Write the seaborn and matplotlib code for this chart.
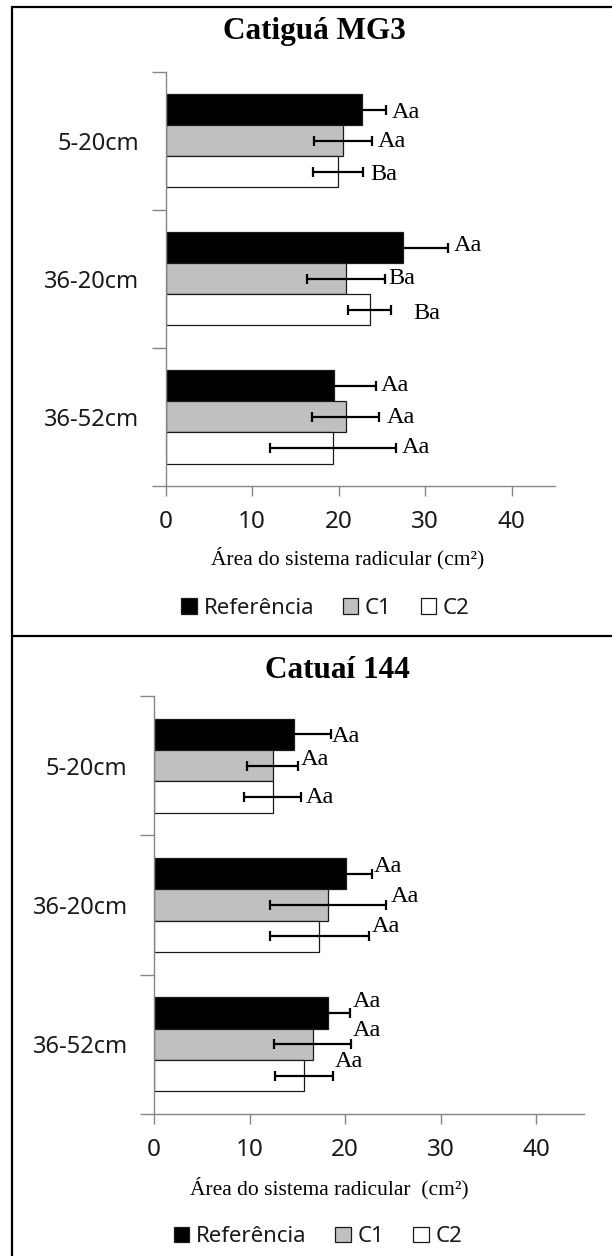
import matplotlib
matplotlib.use("Agg")
import matplotlib.pyplot as plt
import seaborn as sns
import pandas as pd
from matplotlib.lines import Line2D

# ---------------- data ----------------
categories = ["5-20cm", "36-20cm", "36-52cm"]
treatments = ["Referência", "C1", "C2"]

titles = ["Catiguá MG3", "Catuaí 144"]
xlabels = ["Área do sistema radicular (cm²)", "Área do sistema radicular  (cm²)"]
xticks = [0, 10, 20, 30, 40]

# Catiguá MG3
mg3_ref = [22.7, 27.4, 19.4]
mg3_c1 = [20.5, 20.8, 20.8]
mg3_c2 = [19.9, 23.6, 19.3]
mg3_ref_err = [2.8, 5.2, 4.9]
mg3_c1_err = [3.3, 4.5, 3.9]
mg3_c2_err = [2.9, 2.5, 7.3]
mg3_ref_lab = ["Aa", "Aa", "Aa"]
mg3_c1_lab = ["Aa", "Ba", "Aa"]
mg3_c2_lab = ["Ba", "Ba", "Aa"]

# Catuaí 144
cat_ref = [14.6, 20.1, 18.2]
cat_c1 = [12.4, 18.2, 16.6]
cat_c2 = [12.4, 17.3, 15.7]
cat_ref_err = [3.9, 2.7, 2.3]
cat_c1_err = [2.7, 6.1, 4.0]
cat_c2_err = [3.0, 5.2, 3.0]
cat_ref_lab = ["Aa", "Aa", "Aa"]
cat_c1_lab = ["Aa", "Aa", "Aa"]
cat_c2_lab = ["Aa", "Aa", "Aa"]

# ---------------- styling / placement (pixels) ----------------
W, H = 612, 1256
colors = ["#000000", "#c0c0c0", "#ffffff"]
axis_col = "#868686"
txt_col = "#1a1a1a"

# label offsets in px (dx right, dy down) per category, per treatment
mg3_dx = [[5, 6, 7], [6, 4, 22], [5, 7, 6]]
mg3_dy = [[3, 1, 3], [-2, 0, 4], [0, 1, -1]]
cat_dx = [[1, 2, 5], [2, 4, 3], [3, 2, 2]]
cat_dy = [[2, -6, 0], [-7, -8, -10], [-11, -14, -14]]

sns.set_style("white")
plt.rcParams["font.family"] = ["Noto Sans", "DejaVu Sans"]
serif = ["Liberation Serif", "DejaVu Serif"]

fig = plt.figure(figsize=(W / 100, H / 100), dpi=100)


def frac_box(x0, y0, x1, y1):
    return [x0 / W, 1 - y1 / H, (x1 - x0) / W, (y1 - y0) / H]


panels = [
    dict(box=frac_box(165.7, 71.7, 555, 486), means=[mg3_ref, mg3_c1, mg3_c2],
         errs=[mg3_ref_err, mg3_c1_err, mg3_c2_err], labs=[mg3_ref_lab, mg3_c1_lab, mg3_c2_lab],
         dx=mg3_dx, dy=mg3_dy, title=titles[0], title_xy=(314, 31.7), xlabel=xlabels[0],
         xlabel_pos=(0.468, -0.174), leg_pos=(0.4105, -0.2945)),
    dict(box=frac_box(154, 696, 584.3, 1114), means=[cat_ref, cat_c1, cat_c2],
         errs=[cat_ref_err, cat_c1_err, cat_c2_err], labs=[cat_ref_lab, cat_c1_lab, cat_c2_lab],
         dx=cat_dx, dy=cat_dy, title=titles[1], title_xy=(337.6, 670), xlabel=xlabels[1],
         xlabel_pos=(0.4067, -0.177), leg_pos=(0.381, -0.2935)),
]

for p in panels:
    ax = fig.add_axes(p["box"])
    rows = []
    for t, vals in zip(treatments, p["means"]):
        for c, v in zip(categories, vals):
            rows.append({"cat": c, "trat": t, "area": v})
    df = pd.DataFrame(rows)
    sns.barplot(data=df, y="cat", x="area", hue="trat", order=categories,
                hue_order=treatments, palette=colors, orient="h", width=0.675,
                edgecolor="#1a1a1a", linewidth=0.9, errorbar=None, ax=ax)

    # error bars and letters
    for ti, cont in enumerate(ax.containers[:3]):
        ys, xs, es = [], [], []
        for ci, patch in enumerate(cont.patches):
            y = patch.get_y() + patch.get_height() / 2
            ys.append(y)
            xs.append(p["means"][ti][ci])
            es.append(p["errs"][ti][ci])
        ax.errorbar(xs, ys, xerr=es, fmt="none", ecolor="black", elinewidth=1.6,
                    capsize=3.6, capthick=1.6, zorder=5)
        for ci in range(len(categories)):
            ax.annotate(p["labs"][ti][ci], xy=(xs[ci] + es[ci], ys[ci]),
                        xytext=(p["dx"][ci][ti] * 0.72, -p["dy"][ci][ti] * 0.72),
                        textcoords="offset points", ha="left", va="center",
                        family=serif, fontsize=17.5, color="black")

    ax.set_xlim(0, 45)
    ax.set_ylim(2.5, -0.5)
    ax.set_xticks(xticks)
    ax.set_xticklabels([str(v) for v in xticks])
    ax.set_yticks([-0.5, 0.5, 1.5, 2.5])
    ax.set_yticklabels([])
    ax.set_yticks([0, 1, 2], minor=True)
    ax.set_yticklabels(categories, minor=True)
    ax.tick_params(axis="y", which="major", direction="out", length=10, width=1,
                   color=axis_col, left=True)
    ax.tick_params(axis="y", which="minor", length=0, pad=19, labelsize=17,
                   labelcolor=txt_col)
    ax.tick_params(axis="x", which="major", direction="out", length=7, width=1,
                   color=axis_col, bottom=True, pad=10, labelsize=17.5, labelcolor=txt_col)
    for s in ["top", "right"]:
        ax.spines[s].set_visible(False)
    for s in ["left", "bottom"]:
        ax.spines[s].set_color(axis_col)
        ax.spines[s].set_linewidth(1)
    ax.set_ylabel("")
    ax.set_xlabel(p["xlabel"], family=serif, fontsize=15.5, color="black", va="center")
    ax.xaxis.set_label_coords(*p["xlabel_pos"])
    ax.set_facecolor("white")

    sns.move_legend(ax, "center", bbox_to_anchor=p["leg_pos"], ncol=3, frameon=False,
                    title=None, handlelength=0.7, handleheight=0.7, handletextpad=0.3,
                    columnspacing=1.3, fontsize=16, labelcolor=txt_col)

    fig.text(p["title_xy"][0] / W, 1 - p["title_xy"][1] / H, p["title"],
             ha="center", va="center", family=serif, fontsize=22.5, fontweight="bold",
             color="black")

# frame lines
lw = 1.6
fig.add_artist(Line2D([12 / W, 12 / W], [1 - 7 / H, 0], transform=fig.transFigure,
                      color="black", lw=lw))
fig.add_artist(Line2D([12 / W, 1], [1 - 7 / H, 1 - 7 / H], transform=fig.transFigure,
                      color="black", lw=lw))
fig.add_artist(Line2D([12 / W, 1], [1 - 636 / H, 1 - 636 / H], transform=fig.transFigure,
                      color="black", lw=lw))

fig.savefig("out.png", dpi=100, facecolor="white")
